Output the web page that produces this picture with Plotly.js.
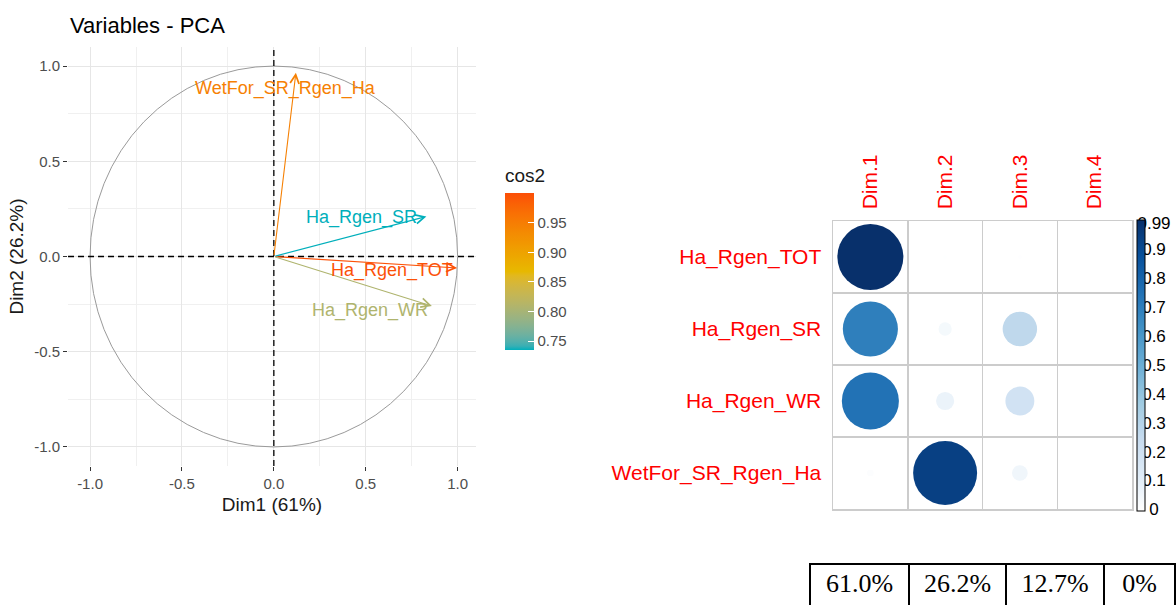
<!DOCTYPE html>
<html>
<head>
<meta charset="utf-8">
<script src="https://cdn.plot.ly/plotly-3.0.1.min.js"></script>
<style>html,body{margin:0;padding:0;background:#fff;}#chart{width:1176px;height:606px;}</style>
</head>
<body>
<div id="chart"></div>
<script>
// ---------------- DATA ----------------
const varNames = ['Ha_Rgen_TOT', 'Ha_Rgen_SR', 'Ha_Rgen_WR', 'WetFor_SR_Rgen_Ha'];
// PCA variable coordinates
const pcaDim1 = [0.997, 0.83, 0.86, 0.12];
const pcaDim2 = [-0.06, 0.21, -0.26, 0.965];
// cos2 table (corrplot)
const dimNames = ['Dim.1', 'Dim.2', 'Dim.3', 'Dim.4'];
const cos2Dim1 = [0.99, 0.69, 0.74, 0.01];
const cos2Dim2 = [0.003, 0.04, 0.075, 0.93];
const cos2Dim3 = [0.004, 0.27, 0.19, 0.056];
const cos2Dim4 = [0, 0, 0, 0];
// explained variance
const varianceLabels = ['61.0%', '26.2%', '12.7%', '0%'];
// axis / legend ticks
const pcaTickVals = [-1, -0.5, 0, 0.5, 1];
const pcaTickText = ['-1.0', '-0.5', '0.0', '0.5', '1.0'];
const cos2TickVals = [0.75, 0.80, 0.85, 0.90, 0.95];
const corrLegendVals = [0.99, 0.9, 0.8, 0.7, 0.6, 0.5, 0.4, 0.3, 0.2, 0.1, 0];
const corrLegendText = ['0.99', '0.9', '0.8', '0.7', '0.6', '0.5', '0.4', '0.3', '0.2', '0.1', '0'];

// ---------------- STYLE ----------------
const W = 1176, H = 606;
const px = x => x / W;
const py = y => 1 - y / H;
const SANS = 'Liberation Sans, Arial, sans-serif';
const gradientColours = ['#00AFBB', '#E7B800', '#FC4E07'];
const cos2Limits = [0.735, 1.0];
const bluesScale = [[0, '#FFFFFF'], [0.125, '#DEEBF7'], [0.25, '#C6DBEF'], [0.375, '#9ECAE1'],
  [0.5, '#6BAED6'], [0.625, '#4292C6'], [0.75, '#2171B5'], [0.875, '#08519C'], [1, '#08306B']];
const labelShiftX = [-2, -7, -2, 82];
const labelShiftY = [-3, -1, -4, -16];

// --- CIELAB interpolation (as ggplot2's gradient palettes) ---
function hex2rgb(h) { return [1, 3, 5].map(i => parseInt(h.substr(i, 2), 16) / 255); }
function rgb2lab(c) {
  const lin = c.map(v => v <= 0.04045 ? v / 12.92 : Math.pow((v + 0.055) / 1.055, 2.4));
  let X = (0.4124 * lin[0] + 0.3576 * lin[1] + 0.1805 * lin[2]) / 0.95047;
  let Y = (0.2126 * lin[0] + 0.7152 * lin[1] + 0.0722 * lin[2]);
  let Z = (0.0193 * lin[0] + 0.1192 * lin[1] + 0.9505 * lin[2]) / 1.08883;
  const f = t => t > 0.008856 ? Math.cbrt(t) : 7.787 * t + 16 / 116;
  const fx = f(X), fy = f(Y), fz = f(Z);
  return [116 * fy - 16, 500 * (fx - fy), 200 * (fy - fz)];
}
function lab2rgb(l) {
  const fy = (l[0] + 16) / 116, fx = fy + l[1] / 500, fz = fy - l[2] / 200;
  const fi = t => t > 0.206893 ? t * t * t : (t - 16 / 116) / 7.787;
  const X = fi(fx) * 0.95047, Y = fi(fy), Z = fi(fz) * 1.08883;
  const lin = [3.2406 * X - 1.5372 * Y - 0.4986 * Z, -0.9689 * X + 1.8758 * Y + 0.0415 * Z, 0.0557 * X - 0.2040 * Y + 1.0570 * Z];
  return lin.map(v => { v = v <= 0.0031308 ? 12.92 * v : 1.055 * Math.pow(v, 1 / 2.4) - 0.055; return Math.round(Math.max(0, Math.min(1, v)) * 255); });
}
const gradLab = gradientColours.map(h => rgb2lab(hex2rgb(h)));
function gradColour(t) {
  t = Math.max(0, Math.min(1, t));
  const n = gradLab.length - 1;
  const k = Math.min(n - 1, Math.floor(t * n));
  const f = t * n - k;
  const lab = gradLab[k].map((v, i) => v + (gradLab[k + 1][i] - v) * f);
  return 'rgb(' + lab2rgb(lab).join(',') + ')';
}
const cos2Scale = [];
for (let i = 0; i <= 40; i++) cos2Scale.push([i / 40, gradColour(i / 40)]);

// cos2 on the first plane
const cos2Plane = pcaDim1.map((x, i) => x * x + pcaDim2[i] * pcaDim2[i]);
const arrowColors = cos2Plane.map(c => gradColour((c - cos2Limits[0]) / (cos2Limits[1] - cos2Limits[0])));

// ---------------- TRACES ----------------
const traces = [];
// invisible points carrying the cos2 colour legend
traces.push({
  type: 'scatter', mode: 'markers', x: pcaDim1, y: pcaDim2, xaxis: 'x', yaxis: 'y',
  hoverinfo: 'skip', showlegend: false,
  marker: {
    size: 1, opacity: 0, color: cos2Plane, colorscale: cos2Scale,
    cmin: cos2Limits[0], cmax: cos2Limits[1], showscale: true,
    colorbar: {
      x: px(505), xanchor: 'left', xpad: 0, y: py(193), yanchor: 'top', ypad: 0,
      thickness: 29, thicknessmode: 'pixels', len: 157, lenmode: 'pixels',
      outlinewidth: 0, borderwidth: 0, ticks: 'inside', ticklen: 6, tickcolor: '#FFFFFF', tickwidth: 1,
      tickvals: cos2TickVals, tickformat: '.2f',
      tickfont: {family: SANS, size: 15, color: '#4D4D4D'}
    }
  }
});

// corrplot circles
const allCos2 = [cos2Dim1, cos2Dim2, cos2Dim3, cos2Dim4];
const cx = [], cy = [], cv = [], cs = [];
allCos2.forEach((col, j) => col.forEach((v, i) => {
  cx.push(j + 1); cy.push(i + 1); cv.push(v);
  cs.push(66 * Math.sqrt(v / 0.99));
}));
traces.push({
  type: 'scatter', mode: 'markers', x: cx, y: cy, xaxis: 'x2', yaxis: 'y2',
  hoverinfo: 'skip', showlegend: false,
  marker: {
    size: cs, sizemode: 'diameter', opacity: 1, color: cv, colorscale: bluesScale, cmin: 0, cmax: 0.99,
    line: {width: 0}, showscale: true,
    colorbar: {
      x: px(1137), xanchor: 'left', xpad: 0, y: py(220), yanchor: 'top', ypad: 0,
      thickness: 8, thicknessmode: 'pixels', len: 291, lenmode: 'pixels',
      outlinewidth: 1, outlinecolor: '#000000', borderwidth: 0,
      ticks: '', showticklabels: false
    }
  }
});

// corrplot legend labels (drawn underneath the colour bar)
traces.push({
  type: 'scatter', mode: 'text', x: corrLegendVals.map(() => 0), y: corrLegendVals, text: corrLegendText,
  xaxis: 'x3', yaxis: 'y3', textposition: 'middle center', hoverinfo: 'skip', showlegend: false,
  textfont: {family: SANS, size: 17, color: '#000000'}, cliponaxis: false
});

// variance table
traces.push({
  type: 'table',
  domain: {x: [px(810), px(1176)], y: [0, py(564)]},
  columnwidth: [99, 97, 98, 71],
  header: {
    values: varianceLabels, align: 'center', height: 60,
    line: {color: '#000000', width: 2}, fill: {color: '#FFFFFF'},
    font: {family: 'Liberation Serif, Times New Roman, serif', size: 26, color: '#000000'}
  },
  cells: {values: [[], [], [], []]}
});

// ---------------- ANNOTATIONS & SHAPES ----------------
const annotations = [];
varNames.forEach((name, i) => {
  annotations.push({
    xref: 'x', yref: 'y', axref: 'x', ayref: 'y', x: pcaDim1[i], y: pcaDim2[i], ax: 0, ay: 0,
    text: '', showarrow: true, arrowhead: 5, arrowsize: 1.6, arrowwidth: 1.1,
    arrowcolor: arrowColors[i], standoff: 0, startstandoff: 0
  });
});
varNames.forEach((name, i) => {
  annotations.push({
    xref: 'x', yref: 'y', x: pcaDim1[i], y: pcaDim2[i], text: name, showarrow: false,
    xanchor: 'right', yanchor: 'middle', xshift: labelShiftX[i], yshift: labelShiftY[i],
    font: {family: SANS, size: 18, color: arrowColors[i]}
  });
});
annotations.push({
  xref: 'paper', yref: 'paper', x: px(503), y: py(176), xanchor: 'left', yanchor: 'middle',
  text: 'cos2', showarrow: false, font: {family: SANS, size: 19, color: '#1A1A1A'}
});

const shapes = [
  {type: 'circle', xref: 'x', yref: 'y', x0: -1, x1: 1, y0: -1, y1: 1, line: {color: '#9A9A9A', width: 1}, layer: 'above'},
  {type: 'line', xref: 'x', yref: 'y domain', x0: 0, x1: 0, y0: 0, y1: 1, line: {color: '#000000', width: 1.3, dash: '6px,4px'}},
  {type: 'line', xref: 'x domain', yref: 'y', x0: 0, x1: 1, y0: 0, y1: 0, line: {color: '#000000', width: 1.3, dash: '6px,4px'}}
];

// ---------------- LAYOUT ----------------
const pcaAxis = {
  tickmode: 'array', tickvals: pcaTickVals, ticktext: pcaTickText,
  ticks: 'outside', ticklen: 4, tickwidth: 1, tickcolor: '#333333',
  tickfont: {family: SANS, size: 15, color: '#4D4D4D'},
  showgrid: true, gridcolor: '#E6E6E6', gridwidth: 1, zeroline: false, showline: false,
  minor: {tickmode: 'linear', tick0: 0, dtick: 0.25, showgrid: true, gridcolor: '#F0F0F0', gridwidth: 1, ticks: ''}
};
const layout = {
  width: W, height: H, margin: {l: 0, r: 0, t: 0, b: 0},
  paper_bgcolor: '#FFFFFF', plot_bgcolor: '#FFFFFF', showlegend: false,
  font: {family: SANS},
  title: {text: 'Variables - PCA', xref: 'paper', yref: 'paper', x: px(70), xanchor: 'left', y: py(25), yanchor: 'middle',
    font: {family: SANS, size: 22, color: '#000000'}},
  xaxis: Object.assign({}, pcaAxis, {
    domain: [px(68), px(476)], range: [-1.12, 1.1], anchor: 'y',
    title: {text: 'Dim1 (61%)', standoff: 6, font: {family: SANS, size: 19, color: '#1A1A1A'}}
  }),
  yaxis: Object.assign({}, pcaAxis, {
    domain: [py(466), py(47)], range: [-1.1, 1.1], anchor: 'x',
    title: {text: 'Dim2 (26.2%)', standoff: 5, font: {family: SANS, size: 19, color: '#1A1A1A'}}
  }),
  xaxis2: {
    domain: [px(833), px(1132)], range: [0.5, 4.5], anchor: 'y2', side: 'top',
    tickmode: 'array', tickvals: [1, 2, 3, 4], ticktext: dimNames, tickangle: -90, ticks: '',
    ticklabelstandoff: 6,
    tickfont: {family: SANS, size: 21, color: '#FF0000'},
    showgrid: false, zeroline: false, showline: true, mirror: true, linecolor: '#CCCCCC', linewidth: 1.5,
    minor: {tickmode: 'linear', tick0: 0.5, dtick: 1, showgrid: true, gridcolor: '#CCCCCC', gridwidth: 1.5, ticks: ''}
  },
  yaxis2: {
    domain: [py(509), py(221)], range: [4.5, 0.5], anchor: 'x2',
    tickmode: 'array', tickvals: [1, 2, 3, 4], ticktext: varNames, ticks: '',
    ticklabelstandoff: 6,
    tickfont: {family: SANS, size: 21, color: '#FF0000'},
    showgrid: false, zeroline: false, showline: true, mirror: true, linecolor: '#CCCCCC', linewidth: 1.5,
    minor: {tickmode: 'linear', tick0: 0.5, dtick: 1, showgrid: true, gridcolor: '#CCCCCC', gridwidth: 1.5, ticks: ''}
  },
  xaxis3: {domain: [px(1132), px(1176)], range: [-1, 1], anchor: 'y3', visible: false, fixedrange: true},
  yaxis3: {domain: [py(511), py(220)], range: [0, 1.008], anchor: 'x3', visible: false, fixedrange: true},
  annotations: annotations,
  shapes: shapes
};

Plotly.newPlot('chart', traces, layout, {displayModeBar: false, staticPlot: true});
</script>
</body>
</html>
